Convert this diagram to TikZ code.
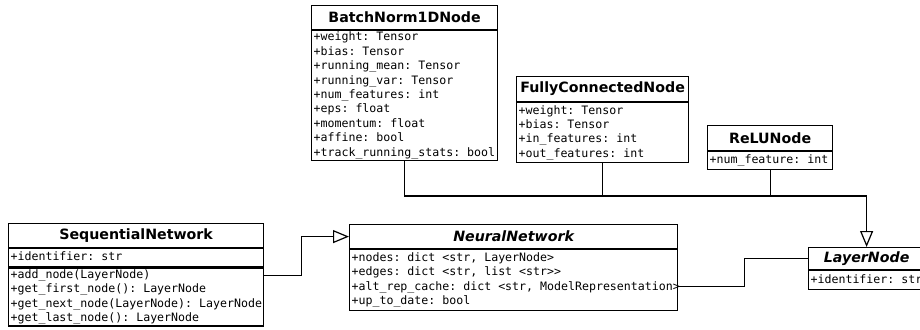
\documentclass[tikz,border=0pt]{standalone}
\usepackage{fontspec}
\setmainfont{DejaVu Sans}
\setmonofont{DejaVu Sans Mono}
\usetikzlibrary{arrows.meta}

% rows of a class box, left aligned and never wrapped
\newcommand{\umlrows}[2]{\makebox[#1][l]{\begin{tabular}{@{}l@{}}#2\end{tabular}}}

\tikzset{
  umltitle/.style={draw, line width=1.2pt, fill=white, anchor=north west, inner sep=0pt,
    font=\bfseries\fontsize{14.2}{16}\selectfont, align=center},
  umlattr/.style={draw, line width=1.2pt, fill=white, anchor=north west, inner xsep=2pt, inner ysep=0pt,
    font=\ttfamily\fontsize{11.6}{14.4}\selectfont},
  inherit/.style={line width=1.2pt, -{Triangle[fill=white, length=16pt, width=13pt]}},
  assoc/.style={line width=1.2pt},
}

\begin{document}
\begin{tikzpicture}[x=1pt, y=-1pt]
  \useasboundingbox (0,0) rectangle (920,329);

  % layer classes
  \node[umltitle, minimum width=186pt, minimum height=24pt] (bnT) at (311,5) {BatchNorm1DNode};
  \node[umlattr, minimum height=129pt] (bnA) at (bnT.south west) {\umlrows{182pt}{+weight: Tensor\\+bias: Tensor\\+running\_mean: Tensor\\+running\_var: Tensor\\+num\_features: int\\+eps: float\\+momentum: float\\+affine: bool\\+track\_running\_stats: bool}};

  \node[umltitle, minimum width=172pt, minimum height=25pt] (fcT) at (516,76) {FullyConnectedNode};
  \node[umlattr, minimum height=60pt] (fcA) at (fcT.south west) {\umlrows{168pt}{+weight: Tensor\\+bias: Tensor\\+in\_features: int\\+out\_features: int}};

  \node[umltitle, minimum width=125pt, minimum height=25pt] (reT) at (707,125) {ReLUNode};
  \node[umlattr, minimum height=18pt] (reA) at (reT.south west) {\umlrows{121pt}{+num\_feature: int}};

  % networks
  \node[umltitle, minimum width=255pt, minimum height=24pt] (snT) at (8,223) {SequentialNetwork};
  \node[umlattr, minimum height=18pt] (snA) at (snT.south west) {\umlrows{251pt}{+identifier: str}};
  \node[umlattr, minimum height=58pt] (snM) at (snA.south west) {\umlrows{251pt}{+add\_node(LayerNode)\\+get\_first\_node(): LayerNode\\+get\_next\_node(LayerNode): LayerNode\\+get\_last\_node(): LayerNode}};

  \node[umltitle, minimum width=328pt, minimum height=24pt] (nnT) at (349,224) {\itshape NeuralNetwork};
  \node[umlattr, minimum height=61pt] (nnA) at (nnT.south west) {\umlrows{324pt}{+nodes: dict <str, LayerNode>\\+edges: dict <str, list <str>{}>\\+alt\_rep\_cache: dict <str, ModelRepresentation>\\+up\_to\_date: bool}};

  \node[umltitle, minimum width=116pt, minimum height=22pt] (lnT) at (808,247) {\itshape LayerNode};
  \node[umlattr, minimum height=19pt] (lnA) at (lnT.south west) {\umlrows{112pt}{+identifier: str}};

  % connectors
  \coordinate (bus) at (lnT.north |- 0,196);
  \draw[inherit] (bnA.south) |- (bus) -- (lnT.north);
  \draw[assoc] (fcA.south) -- (fcA.south |- bus);
  \draw[assoc] (reA.south) -- (reA.south |- bus);

  \draw[inherit] ([yshift=-8pt]snM.north east) -- ++(37,0) |- (nnT.west);
  \draw[assoc] ([yshift=-37pt]nnA.north east) -- ++(66,0) |- (lnT.west);
\end{tikzpicture}
\end{document}
